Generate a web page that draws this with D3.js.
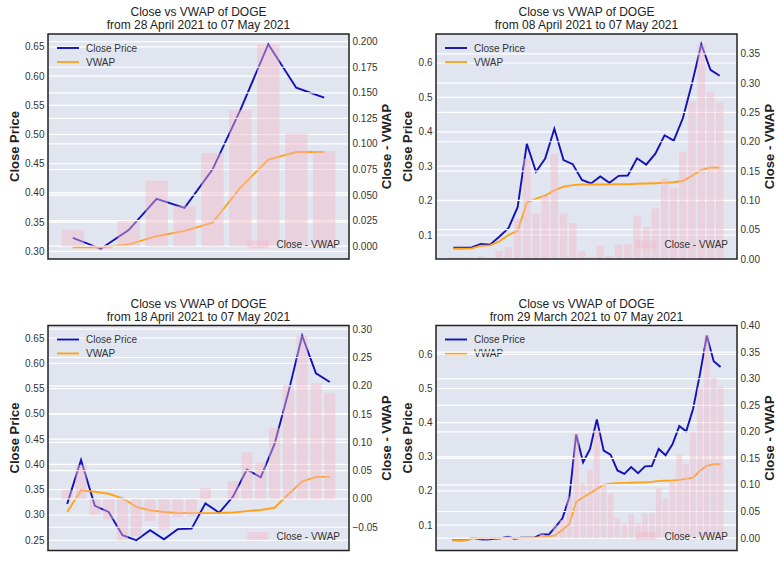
<!DOCTYPE html>
<html>
<head>
<meta charset="utf-8">
<script src="https://cdnjs.cloudflare.com/ajax/libs/d3/7.8.5/d3.min.js"></script>
<style>
  body { margin: 0; background: #fff; }
  svg text { font-family: "Liberation Sans", Arial, sans-serif; }
</style>
</head>
<body>
<svg id="chart" width="776" height="582"></svg>
<script>
// daily close of DOGE, 29 march 2021 -> 07 may 2021 (40 days)
var closePrice = [
  0.0560, 0.0555, 0.0560, 0.0625, 0.0585, 0.0575, 0.0595, 0.0610, 0.0660, 0.0600,
  0.0630, 0.0630, 0.0640, 0.0740, 0.0720, 0.0950, 0.1200, 0.1810, 0.3650, 0.2840,
  0.3220, 0.4090, 0.3180, 0.3060, 0.2600, 0.2500, 0.2700, 0.2520, 0.2720, 0.2730,
  0.3230, 0.3045, 0.3365, 0.3900, 0.3745, 0.4400, 0.5420, 0.6545, 0.5800, 0.5630
];

// vwap depends on the window start so every panel has its own
var vwap10 = [0.307, 0.307, 0.312, 0.326, 0.335, 0.349, 0.409, 0.457, 0.470, 0.470];
var vwap20 = [0.306, 0.349, 0.346, 0.342, 0.333, 0.316, 0.309, 0.306, 0.304, 0.3037,
  0.3037, 0.304, 0.305, 0.3077, 0.310, 0.3143, 0.341, 0.366, 0.3754, 0.3754];
var vwap30 = [0.060, 0.060, 0.061, 0.069, 0.070, 0.0815, 0.100, 0.1125, 0.194, 0.2057,
  0.2145, 0.230, 0.2407, 0.245, 0.2466, 0.247, 0.247, 0.2472, 0.2475, 0.2476,
  0.249, 0.2495, 0.2505, 0.252, 0.2535, 0.257, 0.2727, 0.289, 0.296, 0.296];
var vwap40 = [0.0555, 0.0555, 0.0556, 0.0615, 0.0617, 0.0617, 0.0618, 0.0620, 0.0625, 0.0625,
  0.0626, 0.0627, 0.0630, 0.0645, 0.0660, 0.0705, 0.0860, 0.1030, 0.1676, 0.1810,
  0.1930, 0.2060, 0.2176, 0.2215, 0.2225, 0.2235, 0.2240, 0.2245, 0.2250, 0.2265,
  0.2294, 0.2300, 0.2310, 0.2325, 0.2353, 0.2390, 0.2590, 0.2735, 0.2780, 0.2780];

var ranges = ['from 28 April 2021 to 07 May 2021', 'from 08 April 2021 to 07 May 2021',
  'from 18 April 2021 to 07 May 2021', 'from 29 March 2021 to 07 May 2021'];

// tick labels
var leftTicks10 = [0.30, 0.35, 0.40, 0.45, 0.50, 0.55, 0.60, 0.65];
var rightTicks10 = [0, 0.025, 0.05, 0.075, 0.1, 0.125, 0.15, 0.175, 0.2];
var leftTicks30 = [0.1, 0.2, 0.3, 0.4, 0.5, 0.6];
var rightTicks30 = [0, 0.05, 0.1, 0.15, 0.2, 0.25, 0.3, 0.35];
var leftTicks20 = [0.25, 0.30, 0.35, 0.40, 0.45, 0.50, 0.55, 0.60, 0.65];
var rightTicks20 = [-0.05, 0, 0.05, 0.1, 0.15, 0.2, 0.25, 0.3];
var leftTicks40 = [0.1, 0.2, 0.3, 0.4, 0.5, 0.6];
var rightTicks40 = [0, 0.05, 0.1, 0.15, 0.2, 0.25, 0.3, 0.35, 0.4];

var panels = [
  {vwap: vwap10, range: ranges[0], lt: leftTicks10, rt: rightTicks10, lf: '.2f', rf: '.3f', x: 48, y: 34},
  {vwap: vwap30, range: ranges[1], lt: leftTicks30, rt: rightTicks30, lf: '.1f', rf: '.2f', x: 436, y: 34},
  {vwap: vwap20, range: ranges[2], lt: leftTicks20, rt: rightTicks20, lf: '.2f', rf: '.2f', x: 48, y: 325.5},
  {vwap: vwap40, range: ranges[3], lt: leftTicks40, rt: rightTicks40, lf: '.1f', rf: '.2f', x: 436, y: 325.5}
];

var W = 301, H = 225;
var bg = '#e0e5ef', blue = '#1212b8', orange = '#ffa31a', frame = '#222';
var barCol = '#f4b8c8', barOp = 0.45;
var svg = d3.select('#chart');

// matplotlib style autoscale, 5% margins
function pad(lo, hi) {
  var m = (hi - lo) * 0.05;
  return [lo - m, hi + m];
}

panels.forEach(function(p) {
  var n = p.vwap.length;
  var close = closePrice.slice(closePrice.length - n);
  var diff = close.map(function(c, i) { return c - p.vwap[i]; });

  var g = svg.append('g');

  var x = d3.scaleLinear().domain(pad(-0.4, n - 1 + 0.4)).range([p.x, p.x + W]);
  var yL = d3.scaleLinear()
    .domain(pad(d3.min(close.concat(p.vwap)), d3.max(close.concat(p.vwap))))
    .range([p.y + H, p.y]);
  var dmin = d3.min(diff), dmax = d3.max(diff);
  var rd = pad(Math.min(dmin, 0), dmax);
  if (dmin >= 0) rd[0] = 0; // bars stick to zero
  var yR = d3.scaleLinear().domain(rd).range([p.y + H, p.y]);

  g.append('rect').attr('x', p.x).attr('y', p.y).attr('width', W).attr('height', H).attr('fill', bg);

  // left grid
  g.selectAll('.gl').data(p.lt).enter().append('line')
    .attr('x1', p.x).attr('x2', p.x + W)
    .attr('y1', function(d) { return yL(d); }).attr('y2', function(d) { return yL(d); })
    .attr('stroke', '#fff').attr('stroke-width', 1.2);

  var line = d3.line().x(function(d, i) { return x(i); });
  g.append('path').datum(close).attr('d', line.y(function(d) { return yL(d); }))
    .attr('fill', 'none').attr('stroke', blue).attr('stroke-width', 1.9);
  g.append('path').datum(p.vwap).attr('d', line.y(function(d) { return yL(d); }))
    .attr('fill', 'none').attr('stroke', orange).attr('stroke-width', 1.9);

  // legend upper left
  var lg = [['Close Price', blue], ['VWAP', orange]];
  lg.forEach(function(l, k) {
    var ly = p.y + 14 + k * 14;
    g.append('line').attr('x1', p.x + 9).attr('x2', p.x + 31).attr('y1', ly).attr('y2', ly)
      .attr('stroke', l[1]).attr('stroke-width', 1.9);
    g.append('text').attr('x', p.x + 38).attr('y', ly).attr('dy', '0.35em')
      .attr('font-size', 10).attr('fill', '#333').text(l[0]);
  });

  // right axis grid goes over the lines (twinx is drawn later)
  g.selectAll('.gr').data(p.rt).enter().append('line')
    .attr('x1', p.x).attr('x2', p.x + W)
    .attr('y1', function(d) { return yR(d); }).attr('y2', function(d) { return yR(d); })
    .attr('stroke', '#fff').attr('stroke-width', 1.2);

  g.selectAll('.bar').data(diff).enter().append('rect')
    .attr('x', function(d, i) { return x(i - 0.4); })
    .attr('width', x(0.8) - x(0))
    .attr('y', function(d) { return Math.min(yR(d), yR(0)); })
    .attr('height', function(d) { return Math.abs(yR(d) - yR(0)); })
    .attr('fill', barCol).attr('fill-opacity', barOp);

  // legend lower right
  var rt = g.append('text').attr('x', p.x + W - 9).attr('y', p.y + H - 14.5).attr('dy', '0.35em')
    .attr('text-anchor', 'end').attr('font-size', 10).attr('fill', '#333').text('Close - VWAP');
  var tw = rt.node().getComputedTextLength();
  g.append('rect').attr('x', p.x + W - 9 - tw - 29).attr('y', p.y + H - 18.5)
    .attr('width', 21).attr('height', 8).attr('fill', barCol).attr('fill-opacity', barOp);

  g.append('rect').attr('x', p.x).attr('y', p.y).attr('width', W).attr('height', H)
    .attr('fill', 'none').attr('stroke', frame).attr('stroke-width', 1.5);

  // tick labels
  var fl = d3.format(p.lf), fr = d3.format(p.rf);
  var lw = 0, rw = 0;
  p.lt.forEach(function(t) {
    var tx = g.append('text').attr('x', p.x - 3.5).attr('y', yL(t)).attr('dy', '0.35em')
      .attr('text-anchor', 'end').attr('font-size', 10).attr('fill', '#333').text(fl(t));
    lw = Math.max(lw, tx.node().getComputedTextLength());
  });
  p.rt.forEach(function(t) {
    var tx = g.append('text').attr('x', p.x + W + 3.5).attr('y', yR(t)).attr('dy', '0.35em')
      .attr('font-size', 10).attr('fill', '#333').text(fr(t));
    rw = Math.max(rw, tx.node().getComputedTextLength());
  });

  // axis labels, centred on glyphs
  var cy = p.y + H / 2;
  var lx = p.x - 3.5 - lw - 11;
  g.append('text').attr('transform', 'translate(' + lx + ',' + cy + ') rotate(-90)')
    .attr('text-anchor', 'middle').attr('dy', '0.35em').attr('font-size', 13).attr('font-weight', 'bold')
    .attr('fill', '#222').text('Close Price');
  var rx = p.x + W + 3.5 + rw + 9;
  g.append('text').attr('transform', 'translate(' + rx + ',' + cy + ') rotate(-90)')
    .attr('text-anchor', 'middle').attr('dy', '0.35em').attr('font-size', 13).attr('font-weight', 'bold')
    .attr('fill', '#222').text('Close - VWAP');

  // title
  var tcx = p.x + W / 2;
  g.append('text').attr('x', tcx).attr('y', p.y - 22).attr('dy', '0.35em')
    .attr('text-anchor', 'middle').attr('font-size', 12).attr('fill', '#222').text('Close vs VWAP of DOGE');
  g.append('text').attr('x', tcx).attr('y', p.y - 9).attr('dy', '0.35em')
    .attr('text-anchor', 'middle').attr('font-size', 12).attr('fill', '#222').text(p.range);
});
</script>
</body>
</html>
